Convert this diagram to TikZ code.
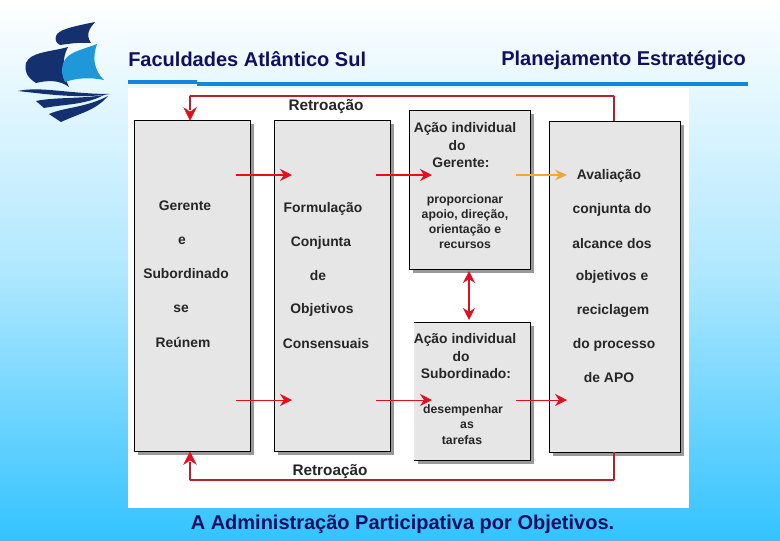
\documentclass[tikz,border=0pt]{standalone}
\usepackage{fontspec}
\setmainfont{Liberation Sans}
\usetikzlibrary{arrows.meta,calc}
\definecolor{bgbot}{HTML}{33C3FF}
\definecolor{navy}{HTML}{10105F}
\definecolor{rulecol}{HTML}{0F86E0}
\definecolor{boxfill}{HTML}{E6E6E6}
\definecolor{shadowc}{HTML}{999999}
\definecolor{redc}{HTML}{E0101F}
\definecolor{fbred}{HTML}{B3202E}
\definecolor{orangec}{HTML}{EBA93A}
\definecolor{saildark}{HTML}{14306F}
\definecolor{saillight}{HTML}{1E98D8}
\tikzset{
  x=0.75pt,y=-0.75pt,
  headtext/.style={font=\bfseries\fontsize{15}{18}\selectfont,text=navy,inner sep=0pt},
  boxtext/.style={font=\bfseries\fontsize{10.4}{12}\selectfont,inner sep=0pt,text=black!85},
  rettext/.style={font=\bfseries\fontsize{11.5}{14}\selectfont,inner sep=0pt,text=black!85},
  smalltext/.style={font=\bfseries\fontsize{9.2}{11.25}\selectfont,inner sep=0pt,align=center,text=black!85},
  thinarr/.style={draw=redc,line width=0.7pt,-{Stealth[length=9pt,width=9pt,inset=3pt]}},
  thickarr/.style={draw=redc,line width=1.4pt,-{Stealth[length=9pt,width=9pt,inset=3pt]}},
  orarr/.style={draw=orangec,line width=1.4pt,-{Stealth[length=9pt,width=8pt,inset=3pt]}},
  fbarr/.style={draw=fbred,line width=1.4pt,rounded corners=0.5pt},
  fbtip/.style={draw=redc,fill=redc,line width=0.5pt},
}
\newcommand{\panelbox}[5]{% name,x1,y1,x2,y2
  \fill[shadowc] (#2+4,#3+4) rectangle (#4+4,#5+4);
  \fill[boxfill] (#2,#3) rectangle (#4,#5);
  \draw[black,line width=0.75pt] (#2,#3) rectangle (#4,#5);
}
\begin{document}
\begin{tikzpicture}
\useasboundingbox (0,0) rectangle (780,540);
\shade[top color=white,bottom color=bgbot,middle color=white!45!bgbot!70!white] (0,0) rectangle (780,540);
\fill[white] (128,88) rectangle (689,508);
% header rule
\fill[rulecol] (128,80) rectangle (197,84);
\fill[rulecol] (197,81.5) rectangle (748,85.5);
% logo
\fill[saildark] (56,36) .. controls (58,30) and (70,27) .. (95,22) .. controls (90,28) and (85,34) .. (91,43) .. controls (78,42) and (68,44) .. (60,45) .. controls (56,43) and (55,40) .. (56,36) -- cycle;
\fill[saildark] (26,63) .. controls (30,52) and (50,52) .. (68,47) .. controls (62,58) and (62,72) .. (69,87) .. controls (60,80) and (48,80) .. (36,83) .. controls (28,78) and (24,72) .. (26,63) -- cycle;
\fill[saillight] (63,64) .. controls (66,52) and (82,50) .. (97,44) .. controls (92,58) and (94,70) .. (104,80) .. controls (90,77) and (76,78) .. (65,82) .. controls (62,76) and (61,70) .. (63,64) -- cycle;
\fill[saildark] (18,91) .. controls (40,86) and (70,94) .. (110,94) .. controls (80,99) and (45,94) .. (18,91) -- cycle;
\fill[saildark] (36,101) .. controls (55,97) and (80,99) .. (104,95) .. controls (85,105) and (65,104) .. (44,108) -- cycle;
\fill[saildark] (49,114) .. controls (65,107) and (85,108) .. (108,96) .. controls (95,111) and (80,113) .. (61,122) -- cycle;
% boxes
\panelbox{bA}{134}{120}{250}{451}
\panelbox{bB}{274}{120}{390}{451}
\panelbox{bC}{409}{110}{530}{269}
\fill[shadowc] (418,326) rectangle (534,464);
\fill[boxfill] (414,322) rectangle (530,460);
\draw[black,line width=0.75pt] (414,322) -- (530,322) -- (530,460) -- (414,460);
\panelbox{bE}{549}{121}{680}{452}
% header text
\node[headtext,anchor=base west] (t1) at (128,66) {Faculdades Atlântico Sul};
\node[headtext,anchor=base west] (t2) at (501,65) {Planejamento Estratégico};
\node[headtext,anchor=base] (t3) at (402.5,529) {A Administração Participativa por Objetivos.};
% labels
\node[rettext] (r1) at (326,107) {Retroação};
\node[rettext] (r2) at (330,472) {Retroação};
\foreach \n/\x/\y/\s in {a1/185/206/Gerente,a2/182/241/e,a3/186/274/Subordinado,a4/181/309/se,a5/183/342/Reúnem,
  b1/323/209/Formulação,b2/321/243/Conjunta,b3/318/276/de,b4/322/310/Objetivos,b5/326/344/Consensuais,
  e1/609/176/Avaliação,e2/612/210/conjunta do,e3/612/244/alcance dos,e4/612/277/objetivos e,e5/613/311/reciclagem,e6/614/345/do processo,e7/609/378/de APO,
  c1/465/129/Ação individual,c2/457/146/do,c3/461/163/Gerente:,
  d1/465/340/Ação individual,d2/461/357/do,d3/466/374/Subordinado:}
  {\node[boxtext] (\n) at (\x,\y) {\s};}
\node[smalltext] (c4) at (465,222) {proporcionar\\apoio, direção,\\orientação e\\recursos};
\node[smalltext] (d4) at (463,410) {desempenhar};
\node[smalltext] (d5) at (467,425) {as};
\node[smalltext] (d6) at (462,440) {tarefas};
% connector ends
\foreach \n/\x/\y in {p1/236/175,q1/292/175,p2/376/175,q2/432/175,p3/516/175,q3/567/175,
  p4/236/400,q4/292/400,p5/376/400,q5/432/400,p6/516/400,q6/567/400,
  u1/469/271,u2/469/320,fA/190/120,fB/190/452,fT/614/96,fD/614/480,eT/614/121,eB/614/452,
  gA/190/110,gB/190/462}
  {\coordinate (\n) at (\x,\y);}
\draw[thickarr] (p1) -- (q1);
\draw[thickarr] (p2) -- (q2);
\draw[orarr] (p3) -- (q3);
\draw[thinarr] (p4) -- (q4);
\draw[thinarr] (p5) -- (q5);
\draw[thinarr] (p6) -- (q6);
\draw[draw=redc,line width=0.9pt,{Stealth[length=9pt,width=9pt,inset=3pt]}-{Stealth[length=9pt,width=9pt,inset=3pt]}] (u1) -- (u2);
% feedback loops
\draw[fbarr] (eT) -- (fT) -| (gA);
\draw[fbarr] (eB) -- (fD) -| (gB);
\draw[fbtip] (fA) -- (184,108) -- (190,112) -- (196,108) -- cycle;
\draw[fbtip] (fB) -- (184,464) -- (190,460) -- (196,464) -- cycle;
\end{tikzpicture}
\end{document}
